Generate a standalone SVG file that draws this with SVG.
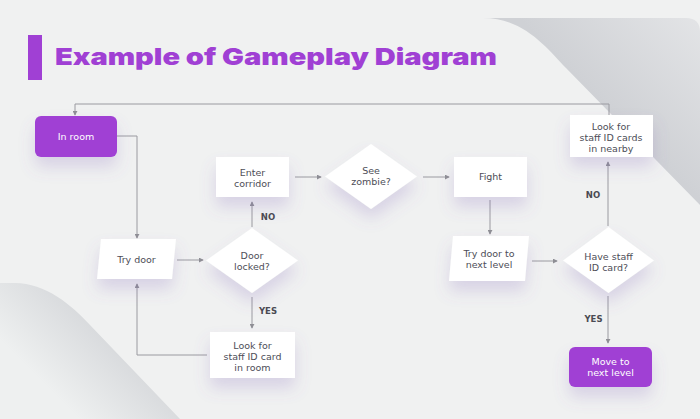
<svg xmlns="http://www.w3.org/2000/svg" width="700" height="419" viewBox="0 0 700 419">
<defs>
<linearGradient id="gTR" gradientUnits="userSpaceOnUse" x1="585" y1="85" x2="690" y2="-20">
<stop offset="0" stop-color="#cfd1d5"/>
<stop offset="1" stop-color="#e6e7e9"/>
</linearGradient>
<linearGradient id="gBL" gradientUnits="userSpaceOnUse" x1="95" y1="315" x2="35" y2="375">
<stop offset="0" stop-color="#d6d8db"/>
<stop offset="1" stop-color="#eef0f0"/>
</linearGradient>
<filter id="sh" x="-60%" y="-60%" width="220%" height="240%">
<feDropShadow dx="0" dy="10" stdDeviation="8" flood-color="#7e62b8" flood-opacity="0.22"/>
</filter>
<marker id="arr" viewBox="0 0 6 6" refX="5" refY="3" markerWidth="5" markerHeight="5" markerUnits="userSpaceOnUse" orient="auto">
<path d="M0,0 L6,3 L0,6 Z" fill="#8f8f95"/>
</marker>
<style>
.bg{fill:#f0f1f1}
.box{fill:#ffffff;filter:url(#sh)}
.pbox{fill:#a040d4;filter:url(#sh)}
.t{font-family:"DejaVu Sans","Liberation Sans",sans-serif;font-size:9.5px;fill:#4d4d57;text-anchor:middle}
.tw{font-family:"DejaVu Sans","Liberation Sans",sans-serif;font-size:9.5px;fill:#ffffff;text-anchor:middle}
.lbl{font-family:"DejaVu Sans","Liberation Sans",sans-serif;font-size:8.5px;font-weight:700;fill:#4a4a52;text-anchor:middle}
.c{fill:none;stroke:#9a9aa0;stroke-width:1;marker-end:url(#arr)}
</style>
</defs>
<rect class="bg" x="0" y="0" width="700" height="419"/>
<path d="M483,18 H686 Q700,18 700,32 V205 L566,68 C548,50 525,18 483,18 Z" fill="url(#gTR)"/>
<path d="M0,283 H15 C45,283 72,305 90,325 L180,419 H0 Z" fill="url(#gBL)"/>
<g id="title">
<rect x="28" y="35" width="14" height="45" fill="#a040d4"/>
<text x="55" y="64.5" font-family="Inter,'Liberation Sans',sans-serif" font-size="23.5" font-weight="900" fill="#a040d4" textLength="442" lengthAdjust="spacingAndGlyphs">Example of Gameplay Diagram</text>
</g>
<g id="connectors">
<path class="c" d="M609,115 V104 H75 V115"/>
<path class="c" d="M117,136 H137 V238"/>
<path class="c" d="M177,260 H203"/>
<path class="c" d="M252,227 V202"/>
<path class="c" d="M295,177 H321"/>
<path class="c" d="M423,177 H449"/>
<path class="c" d="M490,200 V234"/>
<path class="c" d="M532,261 H557"/>
<path class="c" d="M608,226 V162"/>
<path class="c" d="M608,296 V343"/>
<path class="c" d="M252,297 V328"/>
<path class="c" d="M207,355 H137 V284"/>
<text class="lbl" x="268" y="219.5">NO</text>
<text class="lbl" x="268" y="313.5">YES</text>
<text class="lbl" x="593" y="197.5">NO</text>
<text class="lbl" x="593.5" y="321.5">YES</text>
</g>
<g id="in-room">
<rect class="pbox" x="35" y="116" width="82" height="41" rx="6"/>
<text class="tw" x="76" y="139.5">In room</text>
</g>
<g id="try-door">
<polygon class="box" points="101,239 176,239 172,279 97,279"/>
<text class="t" x="136.5" y="262.5">Try door</text>
</g>
<g id="door-locked">
<polygon class="box" points="252,228 298,260.5 252,293 206,260.5"/>
<text class="t" x="252" y="258.5"><tspan x="252">Door</tspan><tspan x="252" dy="11.3">locked?</tspan></text>
</g>
<g id="enter-corridor">
<rect class="box" x="216" y="157" width="73" height="40"/>
<text class="t" x="252.5" y="175.5"><tspan x="252.5">Enter</tspan><tspan x="252.5" dy="11.3">corridor</tspan></text>
</g>
<g id="see-zombie">
<polygon class="box" points="371,144 417,176.5 371,209 325,176.5"/>
<text class="t" x="371" y="173.5"><tspan x="371">See</tspan><tspan x="371" dy="11.3">zombie?</tspan></text>
</g>
<g id="fight">
<rect class="box" x="454" y="157" width="73" height="40"/>
<text class="t" x="490.5" y="179.5">Fight</text>
</g>
<g id="try-door-next">
<polygon class="box" points="453,236 529,236 525,281 449,281"/>
<text class="t" x="489" y="257"><tspan x="489">Try door to</tspan><tspan x="489" dy="11.3">next level</tspan></text>
</g>
<g id="have-staff">
<polygon class="box" points="608.5,227 654,260.5 608.5,293 563,260.5"/>
<text class="t" x="608.5" y="260"><tspan x="608.5">Have staff</tspan><tspan x="608.5" dy="11.3">ID card?</tspan></text>
</g>
<g id="look-nearby">
<rect class="box" x="570" y="115" width="83" height="42"/>
<text class="t" x="611" y="129.5"><tspan x="611">Look for</tspan><tspan x="611" dy="11.3">staff ID cards</tspan><tspan x="611" dy="11.3">in nearby</tspan></text>
</g>
<g id="move-next">
<rect class="pbox" x="569" y="347" width="83" height="40" rx="6"/>
<text class="tw" x="610.5" y="364.5"><tspan x="610.5">Move to</tspan><tspan x="610.5" dy="11.3">next level</tspan></text>
</g>
<g id="look-room">
<rect class="box" x="210" y="332" width="85" height="46"/>
<text class="t" x="252.5" y="348.5"><tspan x="252.5">Look for</tspan><tspan x="252.5" dy="11.3">staff ID card</tspan><tspan x="252.5" dy="11.3">in room</tspan></text>
</g>
</svg>
